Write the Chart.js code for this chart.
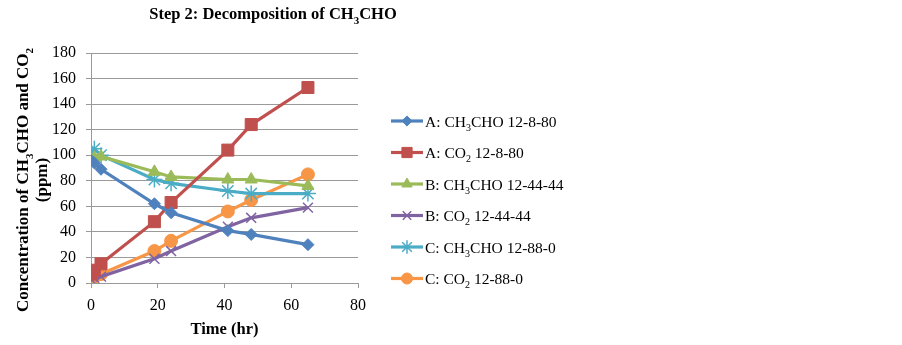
<!DOCTYPE html>
<html><head><meta charset="utf-8">
<script src="https://cdn.jsdelivr.net/npm/chart.js@4/dist/chart.umd.min.js"></script>
<style>html,body{margin:0;padding:0;background:#fff}#wrap{width:902px;height:345px;position:relative}</style>
</head><body><div id="wrap"><canvas id="c" width="902" height="345"></canvas></div>
<script>
// ---- data ----
const times = [0, 1, 3, 19, 24, 41, 48, 65];
const aCH3CHO = [96, 94, 89, 62, 55, 41, 38, 30];
const aCO2    = [7, 10, 15, 48, 63, 104, 124, 153];
const bCH3CHO = [96, 98, 99, 87, 83, 81, 81, 76];
const bCO2    = [3, 4, 5, 19, 25, 44, 51, 59];
const cCH3CHO = [100, 105, 100, 81, 78, 72, 70, 70];
const cCO2    = [3, 5, 7, 25, 33, 56, 65, 85];
const seriesLabels = ['A: CH_{3}CHO 12-8-80', 'A: CO_{2} 12-8-80', 'B: CH_{3}CHO 12-44-44', 'B: CO_{2} 12-44-44', 'C: CH_{3}CHO 12-88-0', 'C: CO_{2} 12-88-0'];
const xTicks = [0, 20, 40, 60, 80];
const yTicks = [0, 20, 40, 60, 80, 100, 120, 140, 160, 180];
const chartTitle = 'Step 2: Decomposition of CH_{3}CHO';
const yTitle = ['Concentration of CH_{3}CHO and CO_{2}', '(ppm)'];
const xTitle = 'Time (hr)';

// ---- styles ----
const FONT = "'Liberation Serif', 'Times New Roman', serif";
const styles = [
  {color: '#4F81BD', pointStyle: 'rectRot', radius: 6, bw: 1},
  {color: '#C0504D', pointStyle: 'rect', radius: 8.5, bw: 1},
  {color: '#9BBB59', pointStyle: 'triangle', radius: 7, bw: 1},
  {color: '#8064A2', pointStyle: 'crossRot', radius: 7, bw: 1.5},
  {color: '#4BACC6', pointStyle: 'star', radius: 8, bw: 1.5},
  {color: '#F79646', pointStyle: 'circle', radius: 6.5, bw: 1}
];
const allSeries = [aCH3CHO, aCO2, bCH3CHO, bCO2, cCH3CHO, cCO2];

const datasets = allSeries.map((vals, i) => ({
  label: seriesLabels[i].replace(/_\{(.*?)\}/g, '$1'),
  data: times.map((t, k) => ({x: t, y: vals[k]})),
  borderColor: styles[i].color,
  backgroundColor: styles[i].color,
  pointBackgroundColor: styles[i].color,
  pointBorderColor: styles[i].color,
  pointStyle: styles[i].pointStyle,
  pointRadius: styles[i].radius,
  pointBorderWidth: styles[i].bw,
  borderWidth: 3.2,
  tension: 0,
  fill: false
}));

// rich text with subscripts: "CH_{3}CHO"
function parseRich(text) {
  const segs = [];
  const re = /_\{(.*?)\}/g;
  let last = 0, m;
  while ((m = re.exec(text))) {
    if (m.index > last) segs.push({t: text.slice(last, m.index), sub: false});
    segs.push({t: m[1], sub: true});
    last = re.lastIndex;
  }
  if (last < text.length) segs.push({t: text.slice(last), sub: false});
  return segs;
}
function drawRich(ctx, text, x, y, size, bold, align) {
  const segs = parseRich(text);
  const f = (s, sub) => (bold ? 'bold ' : '') + (sub ? Math.round(s * 0.65) : s) + 'px ' + FONT;
  let w = 0;
  segs.forEach(s => { ctx.font = f(size, s.sub); s.w = ctx.measureText(s.t).width; w += s.w; });
  let cx = align === 'center' ? x - w / 2 : (align === 'right' ? x - w : x);
  ctx.textAlign = 'left';
  ctx.textBaseline = 'alphabetic';
  segs.forEach(s => {
    ctx.font = f(size, s.sub);
    ctx.fillText(s.t, cx, y + (s.sub ? size * 0.28 : 0));
    cx += s.w;
  });
}

const decorPlugin = {
  id: 'decor',
  afterDraw(chart) {
    const ctx = chart.ctx;
    ctx.save();
    ctx.fillStyle = '#000';
    // title
    drawRich(ctx, chartTitle, 273, 19, 16.5, true, 'center');
    // y title
    ctx.save();
    ctx.translate(0, 180);
    ctx.rotate(-Math.PI / 2);
    drawRich(ctx, yTitle[0], 0, 28, 17, true, 'center');
    drawRich(ctx, yTitle[1], 0, 47, 17, true, 'center');
    ctx.restore();
    // legend
    const lx0 = 391, lx1 = 423, tx = 425, y0 = 121, dy = 31.5;
    chart.data.datasets.forEach((ds, i) => {
      const y = y0 + i * dy;
      ctx.strokeStyle = ds.borderColor;
      ctx.lineWidth = 3.2;
      ctx.beginPath(); ctx.moveTo(lx0, y); ctx.lineTo(lx1, y); ctx.stroke();
      ctx.fillStyle = ds.pointBackgroundColor;
      ctx.strokeStyle = ds.pointBorderColor;
      ctx.lineWidth = ds.pointBorderWidth;
      if (Chart.helpers && Chart.helpers.drawPoint) {
        Chart.helpers.drawPoint(ctx, {pointStyle: ds.pointStyle, radius: ds.pointRadius * 0.85, rotation: 0, borderWidth: ds.pointBorderWidth}, (lx0 + lx1) / 2, y);
      }
      ctx.fillStyle = '#000';
      drawRich(ctx, seriesLabels[i], tx, y + 5.5, 15.5, false, 'left');
    });
    ctx.restore();
  }
};

new Chart(document.getElementById('c'), {
  type: 'line',
  data: {datasets},
  plugins: [decorPlugin],
  options: {
    responsive: false,
    animation: false,
    devicePixelRatio: 1,
    layout: {padding: {left: 0, top: 53, right: 544, bottom: 0}},
    plugins: {legend: {display: false}, tooltip: {enabled: false}, title: {display: false}},
    scales: {
      x: {
        type: 'linear', min: 0, max: 80,
        afterBuildTicks: s => { s.ticks = xTicks.map(v => ({value: v})); },
        afterFit: s => { s.height = 62; },
        grid: {display: true, drawOnChartArea: false, drawTicks: true, tickLength: 5, color: '#9a9a9a'},
        border: {color: '#9a9a9a', width: 1},
        ticks: {color: '#000', font: {family: FONT, size: 16}, padding: 8, maxRotation: 0},
        title: {display: true, text: xTitle, color: '#000', font: {family: FONT, size: 16.5, weight: 'bold'}, padding: {top: 2, bottom: 5}}
      },
      y: {
        type: 'linear', min: 0, max: 180,
        afterBuildTicks: s => { s.ticks = yTicks.map(v => ({value: v})); },
        afterFit: s => { s.width = 91; },
        grid: {display: true, drawOnChartArea: true, drawTicks: true, tickLength: 5, color: '#9a9a9a'},
        border: {color: '#9a9a9a', width: 1},
        ticks: {color: '#000', font: {family: FONT, size: 16}, padding: 10}
      }
    }
  }
});
</script>
</body></html>
